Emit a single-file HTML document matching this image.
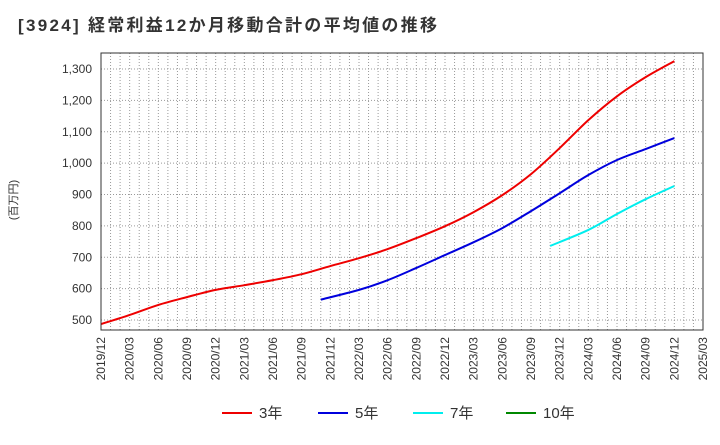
<!DOCTYPE html>
<html><head><meta charset="utf-8"><style>
body{margin:0;background:#fff;font-family:"Liberation Sans","Noto Sans CJK JP",sans-serif}
</style></head><body>
<svg width="720" height="440" xmlns="http://www.w3.org/2000/svg" font-family="Liberation Sans, Noto Sans CJK JP, sans-serif">
<text x="18" y="31" font-size="17" font-weight="bold" fill="#333" textLength="419" lengthAdjust="spacing">[3924]  経常利益12か月移動合計の平均値の推移</text>
<text transform="translate(17,200) rotate(-90)" font-size="11" fill="#333" text-anchor="middle">(百万円)</text>
<g id="grid"></g><g id="axes"></g><g id="series"></g>
<rect x="101" y="53" width="602" height="277" fill="none" stroke="#333" stroke-width="1"/>
<g id="legend"></g>
</svg>
<script>
const xTickLabels=["2019/12","2020/03","2020/06","2020/09","2020/12","2021/03","2021/06","2021/09","2021/12","2022/03","2022/06","2022/09","2022/12","2023/03","2023/06","2023/09","2023/12","2024/03","2024/06","2024/09","2024/12","2025/03"];
const yTicks=[500,600,700,800,900,1000,1100,1200,1300];
// month offsets from 2019/12
const months3=[0,3,6,9,12,15,18,21,24,27,30,33,36,39,42,45,48,51,54,57,60];
const values3=[487,516,548,573,596,611,627,646,672,697,726,761,799,844,898,965,1048,1137,1213,1274,1325];
const months5=[23,27,30,33,36,39,42,45,48,51,54,57,60];
const values5=[565,596,627,666,707,748,793,847,904,962,1010,1045,1080];
const months7=[47,51,54,57,60];
const values7=[736,787,838,885,927];
const seriesNames=["3年","5年","7年","10年"];
const seriesColors=["#e00","#00d","#0ee","#080"];
const NS="http://www.w3.org/2000/svg";
const L=101,R=703,T=53,B=330;
const xs=m=>L+(R-L)*m/63;
const ys=v=>320-(v-500)*(251/800);
function mk(tag,attrs,parent,text){const e=document.createElementNS(NS,tag);for(const k in attrs)e.setAttribute(k,attrs[k]);if(text!=null)e.textContent=text;document.getElementById(parent).appendChild(e);return e;}
for(let m=1;m<63;m++){const g=mk('line',{x1:xs(m),x2:xs(m),y1:T,y2:B,stroke:'#999','stroke-dasharray':'1,2','stroke-width':1},'grid');

}
yTicks.forEach(v=>{const g=mk('line',{x1:L,x2:R,y1:ys(v),y2:ys(v),stroke:'#999','stroke-dasharray':'1,2'},'grid');


const t=mk('text',{x:92,y:ys(v)+4,'font-size':12,fill:'#333','text-anchor':'end'},'axes',v.toLocaleString('en-US'));

});
xTickLabels.forEach((s,i)=>{const x=xs(i*3);const t=mk('text',{transform:`translate(${x+4},337) rotate(-90)`,'font-size':12,fill:'#333','text-anchor':'end'},'axes',s);

});
function path(ms,vs){const p=ms.map((m,i)=>[xs(m),ys(vs[i])]);let d=`M${p[0][0]},${p[0][1]}`;
for(let i=0;i<p.length-1;i++){const p0=p[i-1]||p[i],p1=p[i],p2=p[i+1],p3=p[i+2]||p2;
d+=` C${p1[0]+(p2[0]-p0[0])/6},${p1[1]+(p2[1]-p0[1])/6} ${p2[0]-(p3[0]-p1[0])/6},${p2[1]-(p3[1]-p1[1])/6} ${p2[0]},${p2[1]}`;}return d;}
[[months3,values3,0],[months5,values5,1],[months7,values7,2]].forEach(([m,v,i])=>{const e=mk('path',{d:path(m,v),fill:'none',stroke:seriesColors[i],'stroke-width':2},'series');

});
const lx=[222,318,413,506];
seriesNames.forEach((n,i)=>{const l=mk('line',{x1:lx[i],x2:lx[i]+30,y1:413,y2:413,stroke:seriesColors[i],'stroke-width':2},'legend');


const t=mk('text',{x:lx[i]+37,y:418,'font-size':15,fill:'#333'},'legend',n);

});
</script>
</body></html>
